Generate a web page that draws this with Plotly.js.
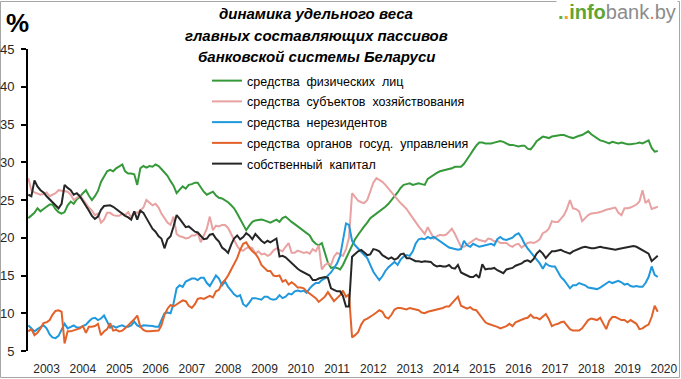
<!DOCTYPE html>
<html>
<head>
<meta charset="utf-8">
<script src="https://cdn.plot.ly/plotly-3.0.1.min.js"></script>
<style>html,body{margin:0;padding:0;background:#fff;}#chart{width:681px;height:379px;}</style>
</head>
<body>
<div id="chart"></div>
<script>
// Monthly observations, first value = July 2002, last = November 2019
var startYear = 2002, startMonth = 7;

var seriesNames = [
  "средства\u00a0 физических\u00a0 лиц",
  "средства\u00a0 субъектов\u00a0 хозяйствования",
  "средства\u00a0 нерезидентов",
  "средства\u00a0 органов\u00a0 госуд.\u00a0 управления",
  "собственный\u00a0 капитал"
];

var individuals = [
  22.6,23.0,23.3,23.9,23.5,23.8,24.1,24.4,24.4,23.8,23.4,23.2,
  23.4,24.3,24.8,24.5,25.1,25.4,25.9,26.3,25.6,25.0,25.5,26.2,
  27.4,28.2,28.8,29.0,28.8,29.2,29.4,29.7,28.8,28.5,28.5,28.4,
  27.0,29.2,29.5,29.3,29.5,29.4,29.7,29.5,29.1,28.7,28.2,27.5,
  26.9,25.9,26.3,26.8,26.5,27.0,27.1,27.3,27.3,26.7,26.1,25.7,
  25.9,26.1,25.6,25.3,25.2,25.0,24.7,24.3,23.9,23.2,22.5,21.6,
  21.0,21.6,22.1,22.3,22.4,22.4,22.3,22.1,22.0,22.2,22.4,22.1,
  22.6,22.8,22.4,22.1,21.8,21.5,21.3,21.0,20.7,20.3,19.6,19.2,
  19.0,19.3,18.0,16.7,16.0,16.1,16.0,15.8,16.4,17.3,18.2,19.0,
  19.8,20.4,21.0,21.5,22.0,22.6,22.9,23.2,23.4,23.7,24.1,24.5,
  25.0,25.4,26.0,26.6,27.0,27.1,27.2,27.0,27.1,27.2,27.1,27.0,
  27.8,28.1,28.4,28.6,28.8,28.9,29.0,29.1,29.2,29.4,29.4,29.4,
  29.8,30.5,31.0,31.6,32.2,32.6,32.6,32.5,32.5,32.5,32.6,32.7,
  32.8,32.7,32.5,32.3,32.3,32.2,32.1,32.2,32.2,31.8,31.7,32.2,
  32.8,33.1,33.4,33.3,33.2,33.4,33.5,33.6,33.6,33.6,33.4,33.3,
  33.2,33.4,33.5,33.6,33.9,34.1,33.7,33.4,33.1,32.9,32.8,32.6,
  32.5,32.7,32.6,32.5,32.6,32.5,32.4,32.4,32.4,32.5,32.6,32.5,
  32.7,32.9,31.9,31.4,31.5
];

var enterprises = [
  27.9,26.3,26.0,25.9,25.7,25.8,26.0,25.5,25.7,25.9,26.3,26.2,
  26.2,26.1,25.7,25.0,25.3,25.6,25.1,24.5,24.0,23.6,23.0,23.2,
  22.0,22.4,23.3,23.3,23.0,22.9,22.9,23.2,23.0,23.4,22.7,23.4,
  23.3,23.6,24.0,25.0,24.6,24.3,24.5,24.0,23.2,22.5,22.0,21.7,
  22.8,20.5,20.2,20.1,19.9,20.0,20.3,20.3,20.6,19.4,20.4,21.2,
  22.8,21.0,21.6,21.5,21.7,21.7,21.3,20.4,19.8,18.9,18.4,18.3,
  18.6,18.8,18.6,17.9,18.2,17.8,17.9,17.6,17.8,18.3,18.6,18.4,
  18.2,18.8,19.3,18.0,18.0,18.3,18.2,18.0,18.1,17.9,18.5,18.2,
  19.0,15.8,16.4,16.6,16.4,17.5,18.0,17.8,17.6,18.5,20.0,25.9,
  25.4,24.9,24.7,24.6,25.0,26.3,27.3,27.9,27.7,27.4,27.0,26.5,
  26.0,25.5,25.1,24.6,24.2,23.8,23.2,22.6,22.0,21.5,21.0,20.5,
  21.4,20.6,19.9,20.2,20.4,20.3,20.4,20.8,21.2,20.5,19.6,18.8,
  18.8,19.1,19.4,19.7,19.9,19.7,19.6,19.5,19.9,19.8,19.5,19.6,
  19.3,19.3,19.3,19.0,18.8,19.1,19.2,18.7,19.0,19.3,19.4,19.3,
  19.5,19.8,20.6,20.8,21.2,22.2,22.1,22.1,22.5,23.0,23.8,25.0,
  23.9,23.8,23.5,22.2,22.6,23.0,23.2,23.2,23.3,23.4,23.6,23.7,
  23.8,23.9,24.0,23.3,23.0,23.9,23.9,24.0,24.2,24.4,24.8,26.3,
  24.6,25.0,23.8,23.9,24.1
];

var nonResidents = [
  8.4,8.0,7.6,7.9,8.2,8.4,8.0,7.2,6.8,6.7,7.0,7.8,
  8.6,8.0,8.2,8.4,8.1,8.1,8.3,8.5,8.9,9.3,9.4,9.1,
  9.3,9.7,8.9,8.1,8.3,8.1,8.3,8.4,8.2,8.2,8.4,8.9,
  8.4,8.2,8.4,8.4,8.4,8.3,8.2,8.2,9.1,10.0,10.1,10.0,
  11.3,13.3,13.7,13.5,14.2,14.4,14.6,14.6,14.4,14.7,14.7,14.0,
  13.6,14.3,15.0,14.6,13.7,14.2,13.5,13.0,12.5,12.2,12.4,11.2,
  10.9,11.4,12.0,12.0,11.9,11.8,12.2,12.2,11.9,11.8,11.9,12.4,
  12.0,12.2,12.6,12.5,12.9,13.0,12.9,13.0,12.7,13.3,13.7,14.0,
  14.0,14.4,14.6,15.0,15.4,16.0,16.6,17.6,19.6,21.9,21.7,19.6,
  19.0,18.6,18.2,17.7,17.3,16.4,15.5,14.9,14.4,14.9,15.6,16.1,
  16.5,16.8,16.4,17.1,17.5,17.7,17.6,18.2,19.2,19.8,19.9,19.8,
  20.1,19.9,20.1,19.8,19.6,19.2,18.9,18.7,18.6,18.5,18.4,18.5,
  19.6,19.0,18.8,19.2,19.0,18.8,18.9,19.0,19.0,19.2,19.0,19.8,
  20.1,19.8,19.7,19.8,20.0,20.4,20.6,20.0,19.2,18.6,18.1,17.7,
  17.1,16.6,15.9,16.6,16.3,16.2,16.2,15.5,14.8,14.4,13.9,13.3,
  13.7,13.7,14.0,13.9,13.7,13.4,13.3,13.3,13.2,13.4,13.7,14.0,
  14.2,14.0,14.2,14.3,14.1,13.8,13.9,13.6,13.5,13.6,13.5,13.5,
  14.0,14.8,16.2,15.1,14.8
];

var government = [
  7.6,7.9,7.1,7.4,8.0,8.7,8.8,9.1,9.8,10.3,10.4,10.2,
  6.0,7.6,7.6,7.7,7.8,8.0,8.3,7.4,8.2,8.2,8.3,8.6,
  7.1,7.6,7.9,8.7,7.7,7.8,7.6,7.7,8.0,8.4,8.7,9.2,
  9.7,8.2,7.8,7.6,7.6,7.6,7.6,7.7,8.4,9.8,10.6,11.1,
  10.9,11.2,11.5,11.7,11.6,11.0,10.7,11.2,11.9,12.0,11.9,12.1,
  12.3,12.1,12.9,13.1,14.0,14.4,15.0,15.8,16.5,17.3,18.4,19.2,
  19.4,18.7,18.2,17.9,17.3,16.4,16.0,15.6,15.6,15.0,14.9,15.0,
  14.2,14.4,13.8,14.1,13.8,13.4,13.4,13.3,12.9,12.6,12.3,12.0,
  11.5,11.9,12.2,12.8,12.2,11.6,12.0,12.4,13.0,12.2,12.5,6.8,
  7.1,7.5,8.5,9.1,9.3,9.5,9.8,10.1,10.4,10.2,9.5,9.3,
  9.8,10.5,10.7,10.7,10.6,10.5,10.7,10.6,10.6,10.4,10.1,10.0,
  10.2,10.3,10.4,10.5,10.6,10.7,10.9,10.9,11.3,11.8,12.2,11.0,
  10.8,10.6,10.8,10.5,10.4,9.9,9.3,8.8,8.6,8.5,8.3,8.2,
  8.0,8.1,8.3,8.6,8.3,8.8,9.0,9.1,9.3,9.4,9.8,9.4,
  9.4,9.2,9.5,9.9,9.2,8.3,8.5,8.6,8.8,8.9,8.4,7.9,
  7.7,7.7,7.7,8.0,8.5,9.1,9.3,9.2,9.1,9.4,8.6,7.9,
  9.0,9.5,9.5,9.3,9.1,9.1,8.8,9.1,8.9,8.6,7.9,8.0,
  8.3,8.5,9.5,11.0,10.2
];

var equity = [
  25.7,25.5,27.6,26.8,26.3,26.0,25.5,25.1,24.7,24.2,23.9,24.5,
  27.0,26.6,26.3,25.7,25.9,25.5,24.9,24.2,23.6,22.9,22.5,22.8,
  23.7,24.2,24.3,24.3,24.1,23.8,23.5,23.1,22.9,22.7,22.4,23.5,
  22.4,23.6,23.3,22.6,21.8,21.2,20.8,20.2,19.9,18.6,19.8,20.2,
  21.5,23.0,22.5,21.9,21.4,21.5,21.2,20.8,20.7,20.3,19.8,19.9,
  20.4,20.5,19.9,19.5,18.7,18.4,18.0,19.1,19.9,20.3,19.8,20.1,
  20.6,20.3,19.8,20.5,20.0,19.6,19.3,19.6,19.4,19.7,19.9,17.5,
  17.6,17.4,17.0,16.6,16.2,15.9,15.6,15.4,15.2,15.0,14.4,14.4,
  14.6,14.7,14.8,14.7,13.3,13.1,12.9,12.9,12.3,10.9,10.9,17.5,
  17.9,18.2,18.4,18.0,17.7,17.8,18.5,18.4,18.2,17.7,17.5,17.2,
  17.4,17.1,17.3,17.8,17.9,17.3,17.3,17.1,16.9,16.9,16.8,16.9,
  16.9,16.8,16.4,16.2,16.3,16.2,16.2,16.4,16.0,15.9,16.4,15.4,
  15.2,15.0,14.8,14.8,15.1,14.7,16.5,15.8,15.9,15.9,16.0,15.7,
  15.5,15.3,15.8,15.9,16.0,16.3,16.5,16.6,16.9,17.0,16.8,17.2,
  17.9,18.3,17.9,17.3,17.8,18.2,18.2,18.3,18.4,18.2,18.1,17.9,
  18.2,18.4,18.6,18.7,18.8,18.7,18.6,18.6,18.7,18.8,18.7,18.6,
  18.6,18.5,18.4,18.5,18.6,18.7,18.8,18.8,18.9,18.8,18.6,18.3,
  18.1,17.9,16.9,17.3,17.6
];

var seriesColors = ["#35993a", "#e8a2a2", "#1f98dd", "#e2622a", "#262626"];
var titleLines = [
  "динамика удельного веса",
  "главных составляющих пассивов",
  "банковской системы Беларуси"
];

function pad(n){ return (n < 10 ? "0" : "") + n; }
var months = [];
for (var i = 0; i < individuals.length; i++) {
  var k = startMonth - 1 + i;
  months.push((startYear + Math.floor(k / 12)) + "-" + pad(k % 12 + 1) + "-01");
}

var allSeries = [individuals, enterprises, nonResidents, government, equity];
var traces = allSeries.map(function (vals, idx) {
  return {
    x: months, y: vals, type: "scatter", mode: "lines",
    name: seriesNames[idx], legendgroup: "g" + idx,
    line: { color: seriesColors[idx], width: 2 }
  };
});

function px(x){ return (x - 28) / 636; }
function py(y){ return (351 - y) / 302; }

var annotations = titleLines.map(function (t, i) {
  return {
    text: "<b><i>" + t + "</i></b>", xref: "paper", yref: "paper",
    x: px(316), y: py(14 + 21 * i), xanchor: "center", yanchor: "middle",
    showarrow: false, font: { family: "Liberation Sans, Arial, sans-serif", size: 15, color: "#000" }
  };
});
annotations.push({
  text: "<b>%</b>", xref: "paper", yref: "paper", x: px(4), y: py(6),
  xanchor: "left", yanchor: "top", showarrow: false,
  font: { family: "Liberation Sans, Arial, sans-serif", size: 26, color: "#000" }
});
annotations.push({
  text: "<b><span style='color:#6aaa3a'>.</span><span style='color:#f0a030'>.</span><span style='color:#5fa532'>info</span></b><span style='color:#8c8c8c'>bank</span><span style='color:#e8772e'>.</span><span style='color:#8c8c8c'>by</span>",
  xref: "paper", yref: "paper", x: px(678), y: py(12), xanchor: "right", yanchor: "middle",
  showarrow: false, bgcolor: "#ffffff",
  font: { family: "Liberation Sans, Arial, sans-serif", size: 20, color: "#8c8c8c" }
});

var layout = {
  width: 681, height: 379,
  margin: { l: 28, r: 17, t: 49, b: 28, pad: 0 },
  paper_bgcolor: "#ffffff", plot_bgcolor: "#ffffff",
  font: { family: "Liberation Sans, Arial, sans-serif", size: 12, color: "#262626" },
  showlegend: true,
  legend: {
    x: px(207), y: py(66), xanchor: "left", yanchor: "top",
    bgcolor: "rgba(0,0,0,0)", traceorder: "grouped", tracegroupgap: 1.5,
    font: { family: "Liberation Sans, Arial, sans-serif", size: 12.5, color: "#000" }
  },
  xaxis: {
    type: "date", range: ["2002-06-28", "2020-01-03"],
    tick0: "2003-01-01", dtick: "M12", tickformat: "%Y",
    showgrid: false, zeroline: false, showline: false, ticks: "",
    ticklabelstandoff: 9,
    tickfont: { family: "Liberation Sans, Arial, sans-serif", size: 12, color: "#262626" }
  },
  yaxis: {
    range: [5, 45], dtick: 5, tick0: 5,
    showgrid: false, zeroline: false, showline: true, linecolor: "#000", linewidth: 2,
    ticks: "outside", ticklen: 5, tickwidth: 2, tickcolor: "#000",
    ticklabelstandoff: 4,
    tickfont: { family: "Liberation Sans, Arial, sans-serif", size: 13, color: "#262626" }
  },
  annotations: annotations,
  shapes: [{
    type: "rect", xref: "paper", yref: "paper", layer: "below",
    x0: px(0.5), x1: px(679.5), y0: py(377.5), y1: py(1.5),
    line: { color: "#a6a6a6", width: 1 }, fillcolor: "rgba(0,0,0,0)"
  }]
};

Plotly.newPlot("chart", traces, layout, { displayModeBar: false, staticPlot: true });
</script>
</body>
</html>
